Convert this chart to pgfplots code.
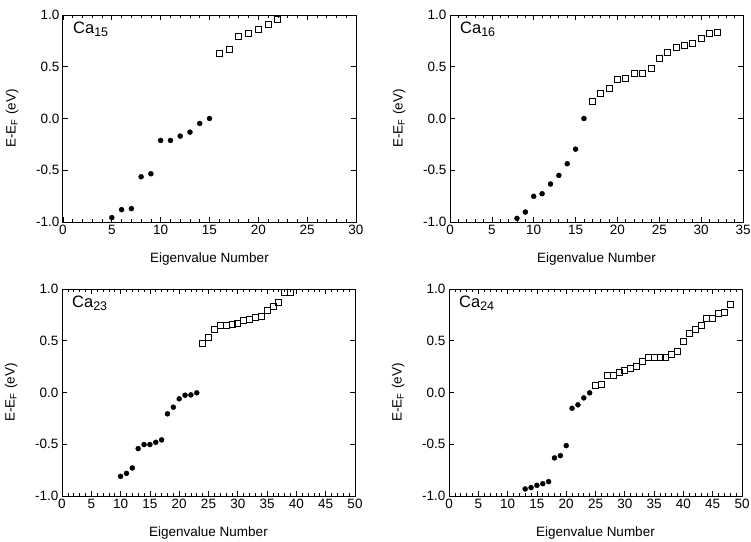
\documentclass[border=0pt]{standalone}
\usepackage{fontspec}
\setmainfont{Liberation Sans}
\usepackage{pgfplots}
\pgfplotsset{compat=1.18}

\newcommand{\calabel}[1]{Ca\raisebox{-3pt}{\fontsize{12.5}{12.5}\selectfont #1}}

\tikzset{tag/.style={anchor=north west, inner sep=0pt, font=\fontsize{16.5}{18}\selectfont}}

\pgfplotsset{
  panel/.style={
    anchor=north west, width=293pt, height=207pt, scale only axis,
    ymin=-1, ymax=1, ytick={-1,-0.5,0,0.5,1},
    xmin=0, minor x tick num=4,
    tick align=inside, tick pos=both,
    major tick length=5pt, minor tick length=3pt,
    axis line style={line width=1pt},
    every tick/.style={black, line width=0.7pt},
    /pgf/number format/assume math mode=true,
    yticklabel style={/pgf/number format/.cd, fixed, fixed zerofill, precision=1},
    tick label style={font=\fontsize{13.5}{16}\selectfont},
    label style={font=\fontsize{13.5}{16}\selectfont},
    xlabel={Eigenvalue Number},
    ylabel={E-E\textsubscript{F} (eV)},
    xlabel style={at={(axis description cs:0.5,-0.18)}, anchor=center},
    ylabel style={at={(axis description cs:-0.174,0.5)}, anchor=center},
  },
  occ/.style={only marks, mark=*, mark size=2.5pt, black},
  unocc/.style={only marks, mark=square, mark size=3pt, black, mark options={line width=0.8pt}},
}

\begin{document}
\begin{tikzpicture}
\useasboundingbox (0,0) rectangle (751pt,-541pt);

% Ca15
\begin{axis}[panel, at={(63pt,-15pt)}, xmax=30, xtick={0,5,...,30}]
\addplot[occ] coordinates {(5,-0.958)(6,-0.881)(7,-0.871)(8,-0.563)(9,-0.534)(10,-0.212)
  (11,-0.212)(12,-0.170)(13,-0.132)(14,-0.048)(15,0.0)};
\addplot[unocc] coordinates {(16,0.633)(17,0.666)(18,0.791)(19,0.823)(20,0.859)(21,0.913)(22,0.955)};
\node[tag] at (axis description cs:0.034,0.965) {\calabel{15}};
\end{axis}

% Ca16
\begin{axis}[panel, at={(450pt,-15pt)}, xmax=35, xtick={0,5,...,35}]
\addplot[occ] coordinates {(8,-0.965)(9,-0.904)(10,-0.752)(11,-0.727)(12,-0.633)(13,-0.550)
  (14,-0.437)(15,-0.296)(16,0.0)};
\addplot[unocc] coordinates {(17,0.164)(18,0.241)(19,0.293)(20,0.373)(21,0.389)(22,0.437)
  (23,0.437)(24,0.486)(25,0.582)(26,0.643)(27,0.685)(28,0.704)(29,0.723)(30,0.775)(31,0.820)(32,0.830)};
\node[tag] at (axis description cs:0.034,0.965) {\calabel{16}};
\end{axis}

% Ca23
\begin{axis}[panel, at={(62pt,-289pt)}, xmax=50, xtick={0,5,...,50}]
\addplot[occ] coordinates {(10,-0.810)(11,-0.781)(12,-0.729)(13,-0.542)(14,-0.503)(15,-0.503)
  (16,-0.481)(17,-0.458)(18,-0.206)(19,-0.142)(20,-0.061)(21,-0.026)(22,-0.023)(23,-0.003)};
\addplot[unocc] coordinates {(24,0.477)(25,0.529)(26,0.610)(27,0.645)(28,0.648)(29,0.658)
  (30,0.665)(31,0.700)(32,0.703)(33,0.729)(34,0.735)(35,0.790)(36,0.829)(37,0.868)(38,0.968)(39,0.968)};
\node[tag] at (axis description cs:0.034,0.965) {\calabel{23}};
\end{axis}

% Ca24
\begin{axis}[panel, at={(449pt,-289pt)}, xmax=50, xtick={0,5,...,50}]
\addplot[occ] coordinates {(13,-0.932)(14,-0.919)(15,-0.897)(16,-0.881)(17,-0.861)(18,-0.632)
  (19,-0.610)(20,-0.513)(21,-0.152)(22,-0.119)(23,-0.052)(24,-0.003)};
\addplot[unocc] coordinates {(25,0.065)(26,0.081)(27,0.161)(28,0.161)(29,0.197)(30,0.216)
  (31,0.229)(32,0.248)(33,0.300)(34,0.335)(35,0.339)(36,0.342)(37,0.342)(38,0.368)(39,0.400)
  (40,0.497)(41,0.568)(42,0.606)(43,0.652)(44,0.713)(45,0.719)(46,0.761)(47,0.777)(48,0.855)};
\node[tag] at (axis description cs:0.034,0.965) {\calabel{24}};
\end{axis}
\end{tikzpicture}
\end{document}
